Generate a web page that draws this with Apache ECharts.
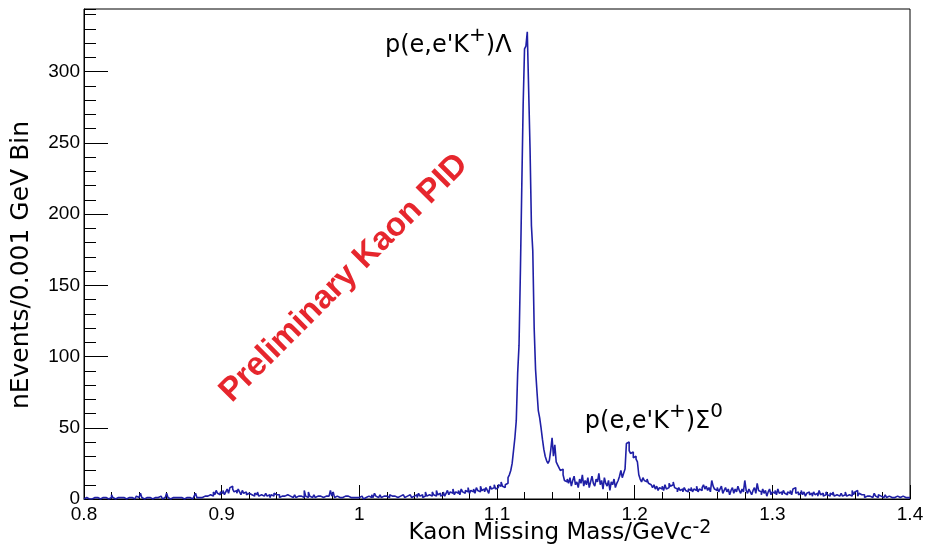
<!DOCTYPE html>
<html>
<head>
<meta charset="utf-8">
<title>Kaon Missing Mass</title>
<script src="https://cdn.jsdelivr.net/npm/echarts@6/dist/echarts.min.js"></script>
<style>
  html, body { margin: 0; padding: 0; background: #fff; }
  #chart { width: 927px; height: 545px; }
</style>
</head>
<body>
<div id="chart"></div>
<script>
// histogram bins: 600 bins of 0.001 GeV, 0.8 .. 1.4
const binStart = 0.8;
const binWidth = 0.001;
const xRange = [0.8, 1.4];
const xStep = 0.1;
const yRange = [0, 344];
const yStep = 50;
const yMinorStep = 10;

const counts = [
  0, 1, 1, 0, 1, 0, 1, 1, 0, 1,
  1, 0, 1, 1, 0, 1, 1, 0, 1, 1,
  3, 1, 0, 1, 1, 0, 1, 0, 1, 1,
  0, 1, 1, 0, 1, 1, 0, 1, 2, 1,
  1, 4, 1, 0, 1, 1, 0, 1, 1, 0,
  1, 1, 0, 1, 1, 2, 1, 0, 1, 1,
  4, 1, 0, 1, 1, 2, 1, 0, 1, 0,
  1, 1, 0, 1, 1, 2, 1, 1, 0, 1,
  2, 4, 1, 1, 2, 1, 1, 2, 3, 2,
  2, 3, 4, 2, 5, 3, 6, 4, 3, 5,
  // 0.90
  4, 6, 3, 5, 7, 4, 8, 9, 7, 5,
  6, 4, 7, 5, 3, 6, 4, 5, 3, 4,
  5, 3, 4, 2, 4, 3, 5, 2, 3, 4,
  2, 3, 4, 2, 3, 1, 3, 2, 4, 3,
  2, 3, 1, 2, 3, 2, 1, 3, 2, 2,
  2, 1, 2, 3, 1, 2, 1, 2, 3, 1,
  6, 2, 1, 5, 2, 1, 2, 3, 1, 2,
  1, 2, 3, 1, 2, 2, 3, 2, 1, 6,
  2, 5, 1, 2, 1, 1, 2, 1, 1, 2,
  1, 2, 1, 1, 2, 1, 0, 1, 2, 1,
  // 1.00
  1, 2, 1, 0, 1, 1, 2, 1, 1, 3,
  1, 4, 2, 1, 2, 3, 1, 2, 1, 2,
  2, 1, 3, 2, 1, 2, 3, 1, 2, 2,
  1, 3, 2, 1, 2, 1, 3, 2, 1, 2,
  2, 3, 1, 4, 2, 3, 1, 2, 5, 2,
  3, 4, 2, 5, 3, 2, 6, 3, 4, 2,
  3, 5, 2, 4, 6, 3, 5, 4, 7, 3,
  5, 4, 6, 3, 7, 5, 4, 6, 5, 8,
  4, 6, 5, 7, 4, 8, 6, 5, 9, 6,
  7, 5, 8, 6, 4, 9, 7, 8, 10, 7,
  // 1.10
  8, 10, 9, 12, 9, 8, 10, 11, 15, 17,
  20, 25, 34, 43, 55, 88, 108, 160, 219, 277,
  316, 318, 328, 287, 246, 192, 174, 120, 91, 76,
  62, 57, 50, 42, 35, 30, 27, 25, 27, 34,
  43, 30, 38, 26, 24, 22, 20, 21, 17, 13,
  12, 14, 11, 15, 9, 13, 16, 10, 12, 8,
  14, 11, 17, 9, 13, 10, 15, 8, 12, 16,
  11, 9, 14, 12, 18, 10, 13, 7, 15, 11,
  9, 13, 6, 12, 10, 14, 8, 11, 13, 16,
  20, 15, 18, 21, 39, 40, 34, 32, 33, 29,
  // 1.20
  30, 28, 26, 17, 14, 12, 15, 13, 12, 14,
  11, 10, 9, 8, 10, 7, 9, 6, 8, 7,
  9, 6, 10, 7, 8, 11, 9, 10, 12, 8,
  7, 5, 8, 6, 7, 5, 8, 6, 5, 7,
  6, 8, 5, 7, 6, 9, 5, 7, 6, 8,
  10, 7, 9, 6, 8, 5, 13, 9, 7, 6,
  8, 5, 7, 9, 4, 6, 8, 5, 7, 3,
  6, 8, 4, 7, 5, 9, 6, 4, 7, 5,
  13, 6, 4, 7, 5, 3, 6, 8, 4, 11,
  6, 5, 3, 7, 4, 6, 2, 5, 7, 3,
  // 1.30
  5, 4, 6, 3, 7, 4, 5, 3, 6, 4,
  3, 5, 4, 6, 3, 7, 8, 4, 5, 3,
  4, 6, 3, 5, 2, 4, 5, 3, 4, 2,
  5, 3, 4, 2, 6, 3, 4, 2, 3, 5,
  3, 2, 4, 3, 5, 2, 3, 4, 2, 3,
  4, 2, 3, 5, 2, 3, 4, 2, 6, 3,
  5, 6, 2, 4, 3, 2, 3, 1, 2, 3,
  2, 3, 1, 2, 4, 2, 1, 3, 2, 2,
  1, 2, 3, 1, 2, 1, 1, 2, 1, 1,
  2, 1, 1, 1, 2, 1, 1, 1, 1, 1
];

// peak labels, placed in data coordinates (left, bottom of text)
const peakLabels = [
  { text: "{m|p(e,e'K}{s|+}{m|)\u039b}", at: [1.0186, 310] },
  { text: "{m|p(e,e'K}{s|+}{m|)\u03a3}{s|0}", at: [1.1638, 46] }
];
const watermark = { text: 'Preliminary Kaon PID', at: [0.9888, 155] };

const lineColor = '#1f1fa6';
const labelRich = {
  m: { fontFamily: 'DejaVu Sans', fontSize: 24, color: '#000', lineHeight: 32, verticalAlign: 'bottom' },
  s: { fontFamily: 'DejaVu Sans', fontSize: 20, color: '#000', lineHeight: 15, verticalAlign: 'top' }
};
const titleRich = {
  m: { fontFamily: 'DejaVu Sans', fontSize: 23, color: '#000', lineHeight: 26, verticalAlign: 'bottom' },
  s: { fontFamily: 'DejaVu Sans', fontSize: 19, color: '#000', lineHeight: 12, verticalAlign: 'top' }
};

const histData = counts.map((c, i) => [+(binStart + i * binWidth).toFixed(3), c]);
histData.push([xRange[1], counts[counts.length - 1]]);

const chart = echarts.init(document.getElementById('chart'));

const tickLabel = { fontFamily: 'Liberation Sans', fontSize: 19, color: '#000' };

chart.setOption({
  animation: false,
  backgroundColor: '#fff',
  grid: {
    left: 84, right: 17, top: 9, bottom: 46,
    outerBoundsMode: 'none',
    containLabel: false,
    show: true, borderColor: '#000', borderWidth: 1
  },
  xAxis: {
    type: 'value',
    min: xRange[0],
    max: xRange[1],
    interval: xStep,
    name: '{m|Kaon Missing Mass/GeVc}{s|-2}',
    nameLocation: 'middle',
    nameGap: 20,
    nameMoveOverlap: false,
    nameTextStyle: {
      fontFamily: 'DejaVu Sans', fontSize: 23, color: '#000',
      padding: [0, 0, 0, 126],
      rich: titleRich
    },
    axisLine: { onZero: false, lineStyle: { color: '#000', width: 1 } },
    axisTick: { inside: true, length: 14, lineStyle: { color: '#000' } },
    minorTick: { show: true, splitNumber: 5, length: 7, lineStyle: { color: '#000' } },
    axisLabel: Object.assign({ margin: 6 }, tickLabel),
    splitLine: { show: false }
  },
  yAxis: [
    {
      type: 'value',
      min: yRange[0],
      max: yRange[1],
      interval: yStep,
      position: 'left',
      offset: 0,
      name: 'nEvents/0.001 GeV Bin',
      nameLocation: 'middle',
      nameGap: 50,
      nameTextStyle: { fontFamily: 'DejaVu Sans', fontSize: 25, color: '#000', padding: [0, 22, 0, 0] },
      axisLine: { show: true, onZero: false, lineStyle: { color: '#000', width: 1 } },
      axisTick: { inside: true, length: 24, lineStyle: { color: '#000' } },
      axisLabel: Object.assign({ margin: 4, showMaxLabel: false }, tickLabel),
      splitLine: { show: false }
    },
    {
      type: 'value',
      min: yRange[0],
      max: yRange[1],
      interval: yMinorStep,
      position: 'left',
      offset: 0,
      axisLine: { show: false },
      axisTick: { inside: true, length: 12, lineStyle: { color: '#000' } },
      axisLabel: { show: false },
      splitLine: { show: false }
    }
  ],
  series: [
    {
      type: 'line',
      name: 'kaon missing mass',
      data: histData,
      step: 'end',
      showSymbol: false,
      xAxisIndex: 0,
      yAxisIndex: 0,
      lineStyle: { color: lineColor, width: 1.6 },
      itemStyle: { color: lineColor }
    }
  ]
});

// annotations: convert data positions to pixels
const graphics = peakLabels.map(lbl => {
  const p = chart.convertToPixel({ gridIndex: 0 }, lbl.at);
  return {
    type: 'text',
    x: p[0],
    y: p[1],
    style: { text: lbl.text, rich: labelRich, align: 'left', verticalAlign: 'bottom' }
  };
});
const wp = chart.convertToPixel({ gridIndex: 0 }, watermark.at);
graphics.push({
  type: 'text',
  x: wp[0],
  y: wp[1],
  rotation: Math.PI / 4,
  style: {
    text: watermark.text,
    fill: '#e6262d',
    font: 'bold 33px "Liberation Sans"',
    align: 'center',
    verticalAlign: 'middle'
  }
});
chart.setOption({ graphic: graphics });
</script>
</body>
</html>
